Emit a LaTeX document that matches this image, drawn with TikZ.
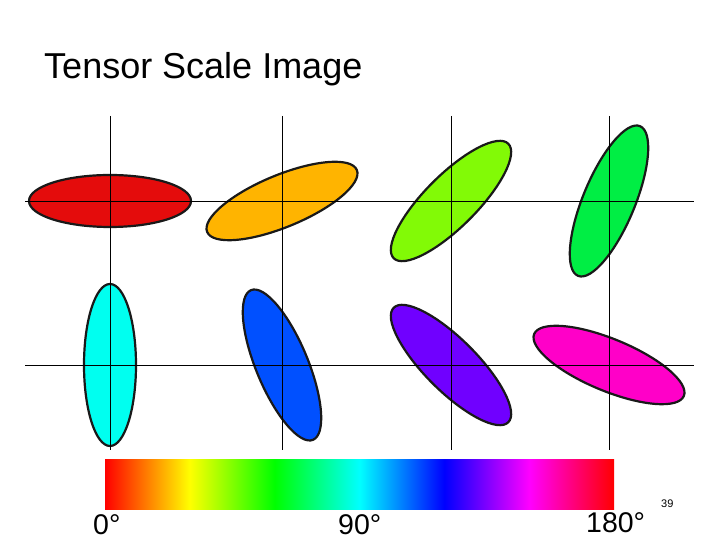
\documentclass[tikz,border=0pt]{standalone}
\usepackage{fontspec}
\setmainfont{Liberation Sans}
\definecolor{cred}{HTML}{E40C0C}
\definecolor{corange}{HTML}{FFB400}
\definecolor{cchart}{HTML}{82FA06}
\definecolor{cgreen}{HTML}{00EE44}
\definecolor{ccyan}{HTML}{00FFF0}
\definecolor{cblue}{HTML}{0050FF}
\definecolor{cviolet}{HTML}{7000FF}
\definecolor{cmagenta}{HTML}{FF00C8}
\pgfdeclarehorizontalshading{huebar}{100bp}{rgb(0bp)=(1,0,0); rgb(25bp)=(1,0,0); rgb(33.333bp)=(1,1,0); rgb(41.667bp)=(0,1,0); rgb(50bp)=(0,1,1); rgb(58.333bp)=(0,0,1); rgb(66.667bp)=(1,0,1); rgb(75bp)=(1,0,0); rgb(100bp)=(1,0,0)}
\tikzset{
  ell/.style={draw=black!90, line width=2.2pt},
  gridline/.style={draw=black, line width=0.8pt},
  lbl/.style={anchor=base west, inner sep=0pt, font=\fontsize{28.5}{32}\selectfont},
}
\begin{document}
\begin{tikzpicture}[x=1pt,y=1pt]
\useasboundingbox (0,0) rectangle (720,540);
\fill[white] (0,0) rectangle (720,540);
% ellipses
\foreach \cx/\cy/\ang/\col in {110/339/0/cred, 282/339/22.5/corange, 451/339/45/cchart, 609/339/67.5/cgreen,
  110/175/90/ccyan, 282/175/112.5/cblue, 451/175/135/cviolet, 609/175/157.5/cmagenta}
  \filldraw[ell, fill=\col, rotate around={\ang:(\cx,\cy)}] (\cx,\cy) ellipse [x radius=81, y radius=26];
% grid lines
\foreach \gx in {110,282,451,609}
  \draw[gridline] (\gx,424) -- (\gx,90);
\foreach \gy in {339,175}
  \draw[gridline] (25,\gy) -- (694,\gy);
% title
\node[anchor=base west, inner sep=0pt, font=\fontsize{36}{42}\selectfont] (title) at (44,461) {Tensor Scale Image};
% colour bar
\shade[shading=huebar] (105,30) rectangle (614,80);
\node[lbl] (l0) at (93,5) {0°};
\node[lbl] (l90) at (338,5) {90°};
\node[lbl] (l180) at (586,7) {180°};
\node[anchor=base west, inner sep=0pt, font=\fontsize{11}{13}\selectfont] (pg) at (661,32) {39};
\end{tikzpicture}
\end{document}
